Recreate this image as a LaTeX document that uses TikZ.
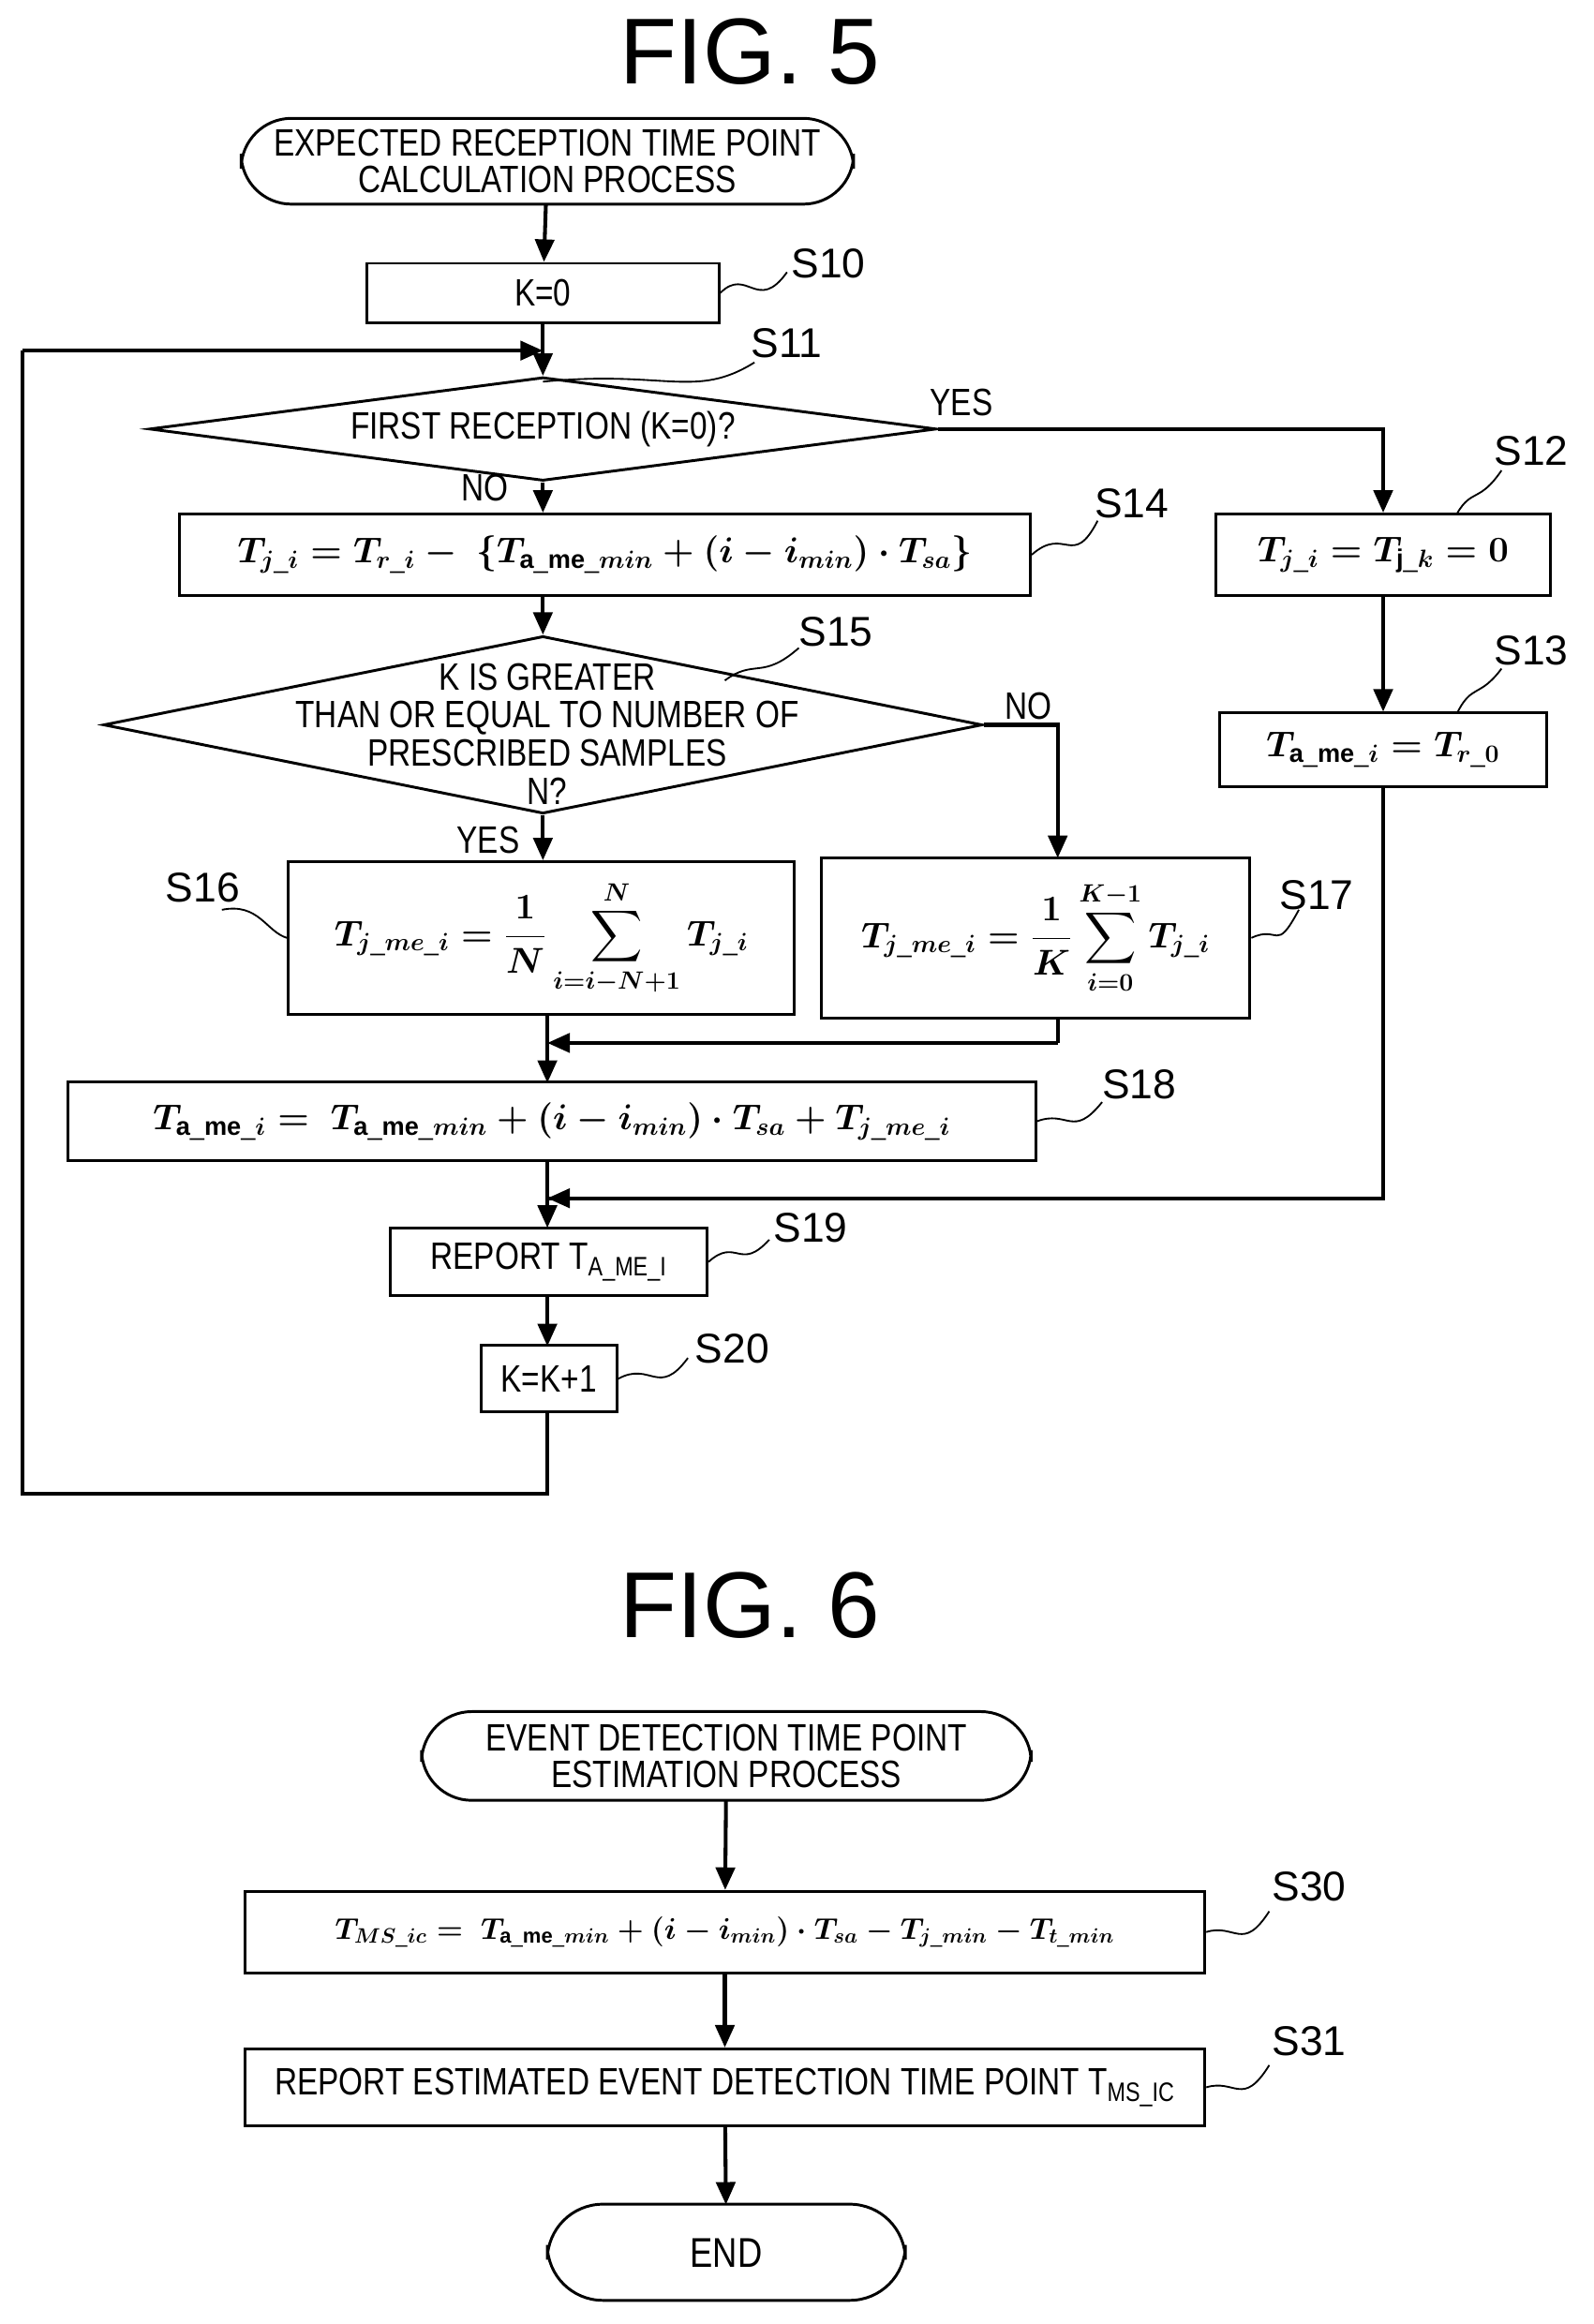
\documentclass[tikz,border=0pt]{standalone}
\usepackage{amsmath}
\usepackage{fontspec}
\setmainfont{Liberation Sans}
\newfontfamily\cond{Liberation Sans}[FakeStretch=0.82]
\usetikzlibrary{shapes.geometric,arrows.meta}
\begin{document}
\begin{tikzpicture}[x=0.03cm,y=-0.03cm,
  every node/.style={font=\cond\fontsize{22}{24}\selectfont, align=center, inner sep=0pt},
  box/.style={draw, line width=1.6pt, rectangle},
  line/.style={line width=2.2pt},
  arr/.style={line width=2.2pt, -{Triangle[length=13pt,width=11pt]}},
  sq/.style={line width=1pt},
  lab/.style={font=\fontsize{24}{26}\selectfont},
  mth/.style={font=\fontsize{21}{23}\selectfont\boldmath},
  title/.style={font=\fontsize{54}{58}\selectfont}]
\useasboundingbox (0,0) rectangle (1077,1571);
% FIG 5
\node[title] (t5) at (507,35) {FIG. 5};
\draw[line width=1.6pt, rounded corners=29] (163,80) rectangle (577,138);
\node (start) at (370,109) [minimum width=414*0.03cm, minimum height=58*0.03cm] {EXPECTED RECEPTION TIME POINT\\[-3pt]CALCULATION PROCESS};
\node[box, minimum width=238*0.03cm, minimum height=40*0.03cm] (s10) at (367,198) {K=0};
\node[lab] (l10) at (560,178) {S10};
\coordinate (m1) at (367,237);
\node[draw, line width=1.6pt, diamond, aspect=7.6, minimum width=532*0.03cm, minimum height=70*0.03cm] (s11) at (367,290) {};
\node at (367,290) {FIRST RECEPTION (K=0)?};
\node[lab] (l11) at (532,232) {S11};
\node (y11) at (650,272) {YES};
\node (n11) at (328,330) {NO};
\node[box, mth, minimum width=575*0.03cm, minimum height=55*0.03cm] (s14) at (409,375) {$T_{j\_i} = T_{r\_i} -\ \{T_{\mathrm{a\_me}\_min} + (i - i_{min})\cdot T_{sa}\}$};
\node[lab] (l14) at (765,340) {S14};
\node[box, mth, minimum width=226*0.03cm, minimum height=55*0.03cm] (s12) at (935,375) {$T_{j\_i} = T_{\mathrm{j}\_k} = 0$};
\node[lab] (l12) at (1035,305) {S12};
\node[box, mth, minimum width=221*0.03cm, minimum height=50*0.03cm] (s13) at (935,507) {$T_{\mathrm{a\_me}\_i} = T_{r\_0}$};
\node[lab] (l13) at (1035,440) {S13};
\node[draw, line width=1.6pt, diamond, aspect=4.95, minimum width=594*0.03cm, minimum height=120*0.03cm] (s15) at (367,490) {};
\node[font=\cond\fontsize{22}{22}\selectfont] at (370,496) {K IS GREATER\\THAN OR EQUAL TO NUMBER OF\\PRESCRIBED SAMPLES\\N?};
\node[lab] (l15) at (565,427) {S15};
\node (n15) at (695,477) {NO};
\node (y15) at (330,568) {YES};
\node[box, mth, minimum width=342*0.03cm, minimum height=103*0.03cm] (s16) at (366,634) {$T_{j\_me\_i} = \dfrac{1}{N}\displaystyle\sum_{i=i-N+1}^{N} T_{j\_i}$};
\node[lab] (l16) at (137,600) {S16};
\node[box, mth, minimum width=290*0.03cm, minimum height=108*0.03cm] (s17) at (700,634) {$T_{j\_me\_i} = \dfrac{1}{K}\displaystyle\sum_{i=0}^{K-1} T_{j\_i}$};
\node[lab] (l17) at (890,605) {S17};
\coordinate (m2) at (370,705);
\node[box, mth, minimum width=654*0.03cm, minimum height=53*0.03cm] (s18) at (373,758) {$T_{\mathrm{a\_me}\_i} =\ T_{\mathrm{a\_me}\_min} + (i - i_{min})\cdot T_{sa} + T_{j\_me\_i}$};
\node[lab] (l18) at (770,733) {S18};
\coordinate (m3) at (370,810);
\node[box, minimum width=214*0.03cm, minimum height=46*0.03cm] (s19) at (371,853) {REPORT T$_{\text{A\_ME\_I}}$};
\node[lab] (l19) at (548,830) {S19};
\node[box, minimum width=92*0.03cm, minimum height=45*0.03cm] (s20) at (371,932) {K=K+1};
\node[lab] (l20) at (495,912) {S20};
\coordinate (b1) at (370,1010);
\coordinate (b2) at (15,1010);
\coordinate (b3) at (15,237);
% connectors
\draw[arr] (start) -- (s10);
\draw[arr] (s10) -- (s11.north);
\draw[arr] (b3) -- (m1);
\draw[arr] (s11.south) -- (s11.south|-s14.north);
\draw[arr] (s11.east) -| (s12.north);
\draw[arr] (s12) -- (s13);
\draw[arr] (s15.north|-s14.south) -- (s15.north);
\draw[arr] (s15.south) -- (s15.south|-s16.north);
\draw[arr] (s15.east) -| (715,580);
\draw[line] (715,688) -- (715,705);
\draw[arr] (715,705) -- (m2);
\draw[arr] (370,686) -- (370,732);
\draw[line] (s13.south) |- (m3);
\draw[arr] (935,810) -- (m3);
\draw[arr] (370,785) -- (370,830);
\draw[arr] (370,876) -- (370,910);
\draw[line] (370,955) -- (b1) -- (b2) -- (b3);
% squiggles
\draw[sq] (s10.east) .. controls (505,180) and (512,212) .. (532,184);
\draw[sq] (367,258) .. controls (450,250) and (470,270) .. (510,245);
\draw[sq] (s14.east) .. controls (720,355) and (725,385) .. (742,352);
\draw[sq] (985,347) .. controls (995,330) and (1000,340) .. (1015,318);
\draw[sq] (985,482) .. controls (995,462) and (1000,472) .. (1015,452);
\draw[sq] (490,460) .. controls (510,445) and (515,460) .. (540,438);
\draw[sq] (s16.west) .. controls (180,630) and (175,610) .. (150,615);
\draw[sq] (s17.east) .. controls (865,625) and (862,645) .. (878,615);
\draw[sq] (s18.east) .. controls (722,750) and (725,770) .. (745,745);
\draw[sq] (s19.east) .. controls (498,836) and (500,860) .. (520,838);
\draw[sq] (s20.east) .. controls (440,920) and (445,945) .. (465,918);
% FIG 6
\node[title] (t6) at (507,1085) {FIG. 6};
\draw[line width=1.6pt, rounded corners=29] (285,1157) rectangle (697,1217);
\node (st6) at (491,1187) [minimum width=412*0.03cm, minimum height=60*0.03cm] {EVENT DETECTION TIME POINT\\[-3pt]ESTIMATION PROCESS};
\node[box, minimum width=649*0.03cm, minimum height=55*0.03cm, font=\fontsize{17}{19}\selectfont\boldmath] (s30) at (490,1306) {$T_{MS\_ic} =\ T_{\mathrm{a\_me}\_min} + (i - i_{min})\cdot T_{sa} - T_{j\_min} - T_{t\_min}$};
\node[lab] (l30) at (885,1275) {S30};
\node[box, minimum width=649*0.03cm, minimum height=52*0.03cm] (s31) at (490,1411) {REPORT ESTIMATED EVENT DETECTION TIME POINT T$_{\text{MS\_IC}}$};
\node[lab] (l31) at (885,1380) {S31};
\draw[line width=1.6pt, rounded corners=32] (370,1490) rectangle (612,1555);
\node (end) at (491,1523) [minimum width=242*0.03cm, minimum height=65*0.03cm, font=\cond\fontsize{24}{26}\selectfont] {END};
\draw[arr] (st6) -- (s30);
\draw[arr] (s30) -- (s31);
\draw[arr] (s31) -- (end);
\draw[sq] (s30.east) .. controls (835,1300) and (840,1320) .. (858,1292);
\draw[sq] (s31.east) .. controls (835,1405) and (840,1425) .. (858,1396);
\end{tikzpicture}
\end{document}
